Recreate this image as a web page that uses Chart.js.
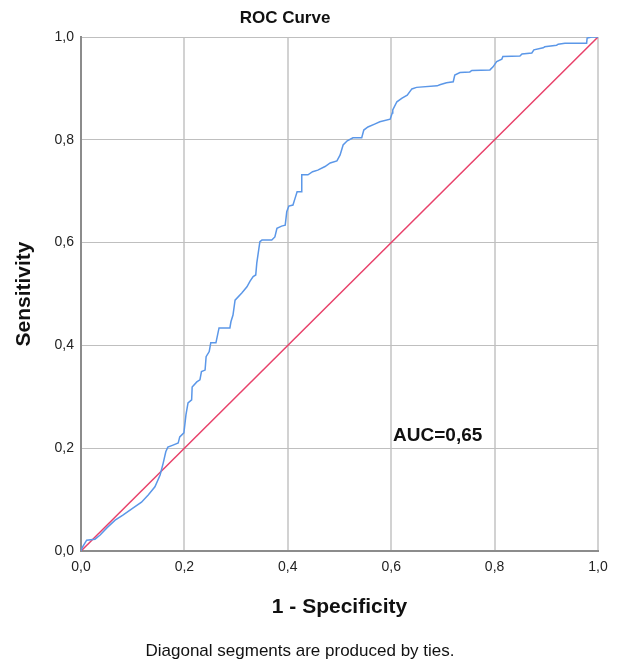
<!DOCTYPE html>
<html>
<head>
<meta charset="utf-8">
<script src="https://cdn.jsdelivr.net/npm/chart.js@4"></script>
<style>
  html, body { margin: 0; padding: 0; background: #fff; }
  #wrap { width: 623px; height: 666px; position: relative; }
</style>
</head>
<body>
<div id="wrap"><canvas id="roc-chart"></canvas></div>
<script>
// ROC curve (1 - specificity, sensitivity)
const fpr = [0, 0.002, 0.011, 0.027, 0.037, 0.050, 0.066, 0.081, 0.101, 0.117, 0.130, 0.143, 0.153, 0.159, 0.164, 0.168, 0.178, 0.188, 0.191, 0.199,
  0.203, 0.207, 0.214, 0.215, 0.224, 0.230, 0.233, 0.240, 0.242, 0.248, 0.251, 0.261, 0.267, 0.288, 0.290, 0.294, 0.298, 0.311, 0.321, 0.327,
  0.333, 0.338, 0.340, 0.346, 0.350, 0.369, 0.375, 0.379, 0.388, 0.395, 0.398, 0.402, 0.410, 0.414, 0.418, 0.427, 0.427, 0.439, 0.448, 0.458,
  0.472, 0.482, 0.495, 0.501, 0.507, 0.515, 0.526, 0.543, 0.547, 0.555, 0.569, 0.578, 0.598, 0.602, 0.603, 0.611, 0.621, 0.631, 0.640, 0.649,
  0.689, 0.694, 0.707, 0.720, 0.723, 0.733, 0.752, 0.756, 0.791, 0.797, 0.804, 0.814, 0.816, 0.849, 0.853, 0.872, 0.876, 0.894, 0.897, 0.920,
  0.923, 0.936, 0.978, 0.979, 0.988, 1];
const tpr = [0, 0.006, 0.021, 0.023, 0.031, 0.045, 0.060, 0.070, 0.084, 0.095, 0.109, 0.125, 0.148, 0.171, 0.193, 0.202, 0.206, 0.210, 0.222, 0.230,
  0.265, 0.288, 0.294, 0.319, 0.329, 0.333, 0.349, 0.352, 0.378, 0.388, 0.405, 0.405, 0.434, 0.434, 0.446, 0.459, 0.488, 0.502, 0.514, 0.525,
  0.534, 0.537, 0.560, 0.602, 0.605, 0.605, 0.611, 0.628, 0.632, 0.634, 0.660, 0.671, 0.673, 0.686, 0.699, 0.699, 0.732, 0.732, 0.738, 0.741,
  0.748, 0.755, 0.759, 0.770, 0.790, 0.798, 0.804, 0.804, 0.819, 0.825, 0.831, 0.835, 0.840, 0.852, 0.858, 0.874, 0.881, 0.887, 0.899, 0.902,
  0.905, 0.907, 0.911, 0.913, 0.926, 0.931, 0.932, 0.935, 0.936, 0.942, 0.952, 0.957, 0.962, 0.963, 0.967, 0.969, 0.975, 0.979, 0.981, 0.984,
  0.986, 0.988, 0.988, 0.998, 1.0, 1];
// reference line
const refX = [0, 1];
const refY = [0, 1];
const axisTicks = [0, 0.2, 0.4, 0.6, 0.8, 1.0];
const aucLabel = "AUC=0,65";
const aucPos = [0.69, 0.225];

const toPoints = (xs, ys) => xs.map((x, i) => ({ x: x, y: ys[i] }));
const fmt = v => v.toFixed(1).replace(".", ",");
const FONT = "'Liberation Sans', Arial, sans-serif";

// extra texts: title, footnote, AUC label
const textPlugin = {
  id: "rocTexts",
  afterDraw(chart) {
    const c = chart.ctx;
    c.save();
    c.fillStyle = "#111";
    c.textAlign = "center";
    c.textBaseline = "middle";
    c.font = "bold 17px " + FONT;
    c.fillText("ROC Curve", 285, 18);
    c.font = "17px " + FONT;
    c.fillText("Diagonal segments are produced by ties.", 300, 651);
    c.font = "bold 19px " + FONT;
    c.fillText(aucLabel, chart.scales.x.getPixelForValue(aucPos[0]), chart.scales.y.getPixelForValue(aucPos[1]));
    c.restore();
  }
};

new Chart(document.getElementById("roc-chart").getContext("2d"), {
  type: "scatter",
  data: {
    datasets: [
      {
        label: "ROC",
        data: toPoints(fpr, tpr),
        showLine: true,
        borderColor: "#5b97e8",
        borderWidth: 1.5,
        pointRadius: 0,
        tension: 0
      },
      {
        label: "Reference",
        data: toPoints(refX, refY),
        showLine: true,
        borderColor: "#e8416a",
        borderWidth: 1.5,
        pointRadius: 0
      }
    ]
  },
  plugins: [textPlugin],
  options: {
    responsive: true,
    maintainAspectRatio: false,
    animation: false,
    layout: { padding: { top: 37, right: 25, bottom: 40, left: 0 } },
    plugins: { legend: { display: false }, tooltip: { enabled: false } },
    scales: {
      x: {
        type: "linear", min: 0, max: 1,
        afterFit: s => { s.height = 75; },
        afterBuildTicks: s => { s.ticks = axisTicks.map(v => ({ value: v })); },
        ticks: { callback: fmt, color: "#222", padding: 8, maxRotation: 0, font: { size: 14, family: FONT } },
        grid: { color: "#d2d2d2", lineWidth: 2, drawTicks: false },
        border: { color: "#8c8c8c", width: 2 },
        title: { display: true, text: "1 - Specificity", color: "#111", padding: { top: 0, bottom: 6 },
                 font: { size: 21, weight: "bold", family: FONT } }
      },
      y: {
        type: "linear", min: 0, max: 1,
        afterFit: s => { s.width = 81; },
        afterBuildTicks: s => { s.ticks = axisTicks.map(v => ({ value: v })); },
        ticks: { callback: fmt, color: "#222", padding: 7, font: { size: 14, family: FONT } },
        grid: { color: "#bfbfbf", lineWidth: 1, drawTicks: false },
        border: { color: "#8c8c8c", width: 2 },
        title: { display: true, text: "Sensitivity", color: "#111", padding: { top: 12, bottom: 0 },
                 font: { size: 21, weight: "bold", family: FONT } }
      }
    }
  }
});
</script>
</body>
</html>
